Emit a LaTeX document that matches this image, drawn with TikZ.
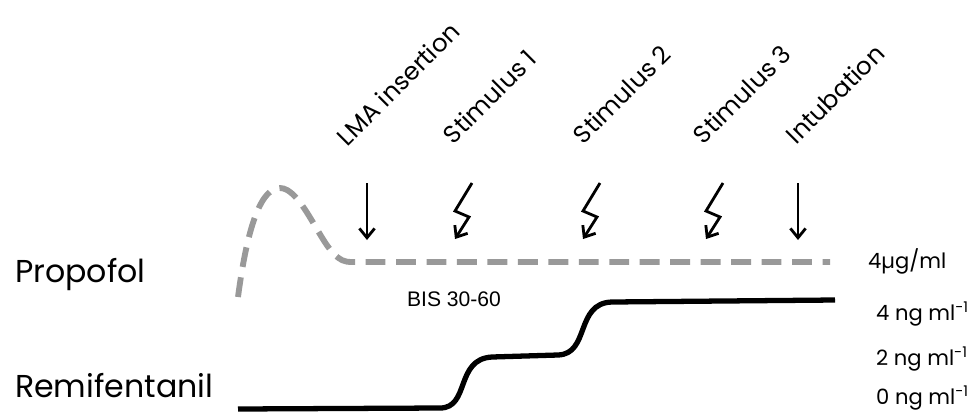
\documentclass[tikz,border=0pt]{standalone}
\usepackage{fontspec}
\setmainfont{Poppins}
\newfontfamily\arialfont{Liberation Sans}
\usepackage{tikz}
\usetikzlibrary{arrows.meta,positioning}

\begin{document}
\begin{tikzpicture}[x=0.03cm, y=-0.03cm,
    drug/.style={anchor=base west, font=\fontsize{27}{31}\selectfont},
    event/.style={anchor=base west, rotate=45, font=\fontsize{21}{24}\selectfont},
    dose/.style={anchor=base west, font=\fontsize{18}{21}\selectfont},
    cue/.style={-{Straight Barb[length=8pt, width=13pt]}, line width=2.4pt},
    propo/.style={line width=5pt, dash pattern=on 17pt off 9pt, color=gray!80},
    remi/.style={line width=4.5pt}
]
    \useasboundingbox (0,0) rectangle (980,412);

    \node[drug] (propofol) at (11,282) {Propofol};
    \node[drug] (remifentanil) at (11,397) {Remifentanil};

    \node[event] (lmalbl) at (345,150) {LMA insertion};
    \node[event] (stim1lbl) at (451,148) {Stimulus 1};
    \node[event] (stim2lbl) at (581,148) {Stimulus 2};
    \node[event] (stim3lbl) at (701,148) {Stimulus 3};
    \node[event] (intublbl) at (794,148) {Intubation};

    \coordinate (lma) at (367,183);
    \coordinate (stim1) at (472,183);
    \coordinate (stim2) at (600,183);
    \coordinate (stim3) at (723,183);
    \coordinate (intub) at (798,183);

    \draw[cue] (lma) -- ++(0,57);
    \draw[cue] (intub) -- ++(0,57);
    \draw[cue, line join=miter] (stim1) -- ++(-17,28) -- ++(14,6) -- ++(-14,22);
    \draw[cue, line join=miter] (stim2) -- ++(-17,28) -- ++(14,6) -- ++(-14,22);
    \draw[cue, line join=miter] (stim3) -- ++(-17,28) -- ++(14,6) -- ++(-14,22);

    \draw[propo] (238,297) .. controls (248,222) and (262,188) .. (280,188)
        .. controls (300,188) and (318,238) .. (334,254)
        .. controls (340,260) and (344,262) .. (352,262) -- (830,262);
    \draw[remi] (238,409) -- (440,408) .. controls (470,408) and (455,359) .. (492,357)
        -- (558,355) .. controls (590,354) and (575,303) .. (612,302) -- (835,300);

    \node[anchor=base west, font=\arialfont\fontsize{18}{21}\selectfont] (bis) at (403,306) {BIS 30-60};

    \node[dose] (propdose) at (864,268) {4µg/ml};
    \node[dose] (remi4) at (872,320) {4 ng ml\textsuperscript{-1}};
    \node[dose] (remi2) at (872,365) {2 ng ml\textsuperscript{-1}};
    \node[dose] (remi0) at (872,404) {0 ng ml\textsuperscript{-1}};
\end{tikzpicture}
\end{document}
